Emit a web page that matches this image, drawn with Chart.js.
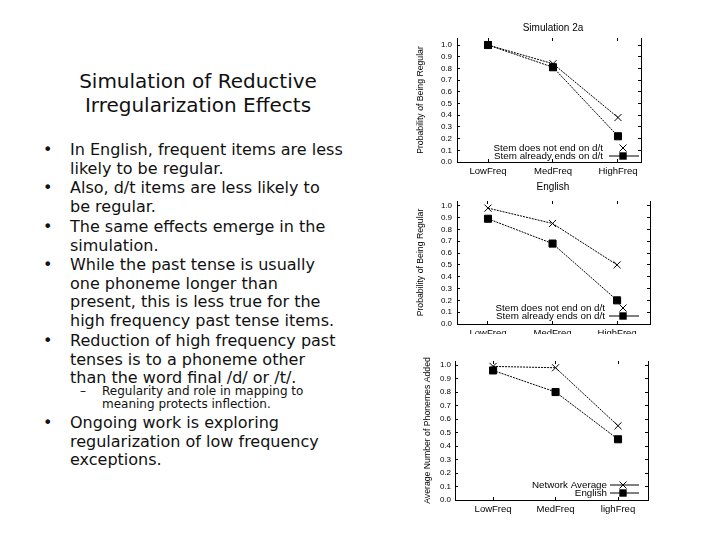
<!DOCTYPE html>
<html>
<head>
<meta charset="utf-8">
<script src="https://cdn.jsdelivr.net/npm/chart.js@4.4.1/dist/chart.umd.min.js"></script>
<style>
  body { margin: 0; background: #fff; width: 720px; height: 540px; overflow: hidden; position: relative; font-family: "DejaVu Sans", Verdana, sans-serif; color: #111; }
  .title { position: absolute; left: 40px; width: 316px; top: 69px; text-align: center; font-size: 20px; line-height: 24px; }
  .bul { position: absolute; left: 70px; font-size: 16px; line-height: 18.5px; white-space: nowrap; }
  .bul::before { content: "\2022"; position: absolute; left: -27px; }
  .sub { position: absolute; left: 102px; font-size: 12px; line-height: 13px; white-space: nowrap; }
  .sub::before { content: "\2013"; position: absolute; left: -22px; }
  canvas { position: absolute; }
</style>
</head>
<body>
<div class="title">Simulation of Reductive<br>Irregularization Effects</div>
<div class="bul" style="top:141px">In English, frequent items are less<br>likely to be regular.</div>
<div class="bul" style="top:179px">Also, d/t items are less likely to<br>be regular.</div>
<div class="bul" style="top:218px">The same effects emerge in the<br>simulation.</div>
<div class="bul" style="top:256px">While the past tense is usually<br>one phoneme longer than<br>present, this is less true for the<br>high frequency past tense items.</div>
<div class="bul" style="top:332px">Reduction of high frequency past<br>tenses is to a phoneme other<br>than the word final /d/ or /t/.</div>
<div class="sub" style="top:385px">Regularity and role in mapping to<br>meaning protects inflection.</div>
<div class="bul" style="top:414px">Ongoing work is exploring<br>regularization of low frequency<br>exceptions.</div>

<canvas id="c1" width="286" height="165" style="left:410px;top:15px"></canvas>
<canvas id="c2" width="286" height="154" style="left:410px;top:180px"></canvas>
<canvas id="c3" width="250" height="165" style="left:410px;top:355px"></canvas>

<script>
// data
const categories = ["LowFreq", "MedFreq", "HighFreq"];
const categories3 = ["LowFreq", "MedFreq", "lighFreq"];
const yTicks = [0.0, 0.1, 0.2, 0.3, 0.4, 0.5, 0.6, 0.7, 0.8, 0.9, 1.0];

const sim2aNotDT = [1.0, 0.84, 0.38];
const sim2aDT = [1.0, 0.81, 0.22];

const engNotDT = [0.98, 0.85, 0.50];
const engDT = [0.89, 0.68, 0.20];

const phonNetwork = [0.99, 0.98, 0.55];
const phonEnglish = [0.96, 0.80, 0.45];

const FONT = "'Liberation Sans', Arial, sans-serif";

function pts(values) {
  return values.map((v, i) => ({ x: i, y: v }));
}

function drawMarker(ctx, style, x, y) {
  ctx.save();
  ctx.strokeStyle = "#000";
  ctx.fillStyle = "#000";
  ctx.lineWidth = 1;
  if (style === "rect") {
    ctx.fillRect(x - 3.7, y - 3.7, 7.4, 7.4);
  } else {
    ctx.beginPath();
    ctx.moveTo(x - 3.5, y - 3.5); ctx.lineTo(x + 3.5, y + 3.5);
    ctx.moveTo(x + 3.5, y - 3.5); ctx.lineTo(x - 3.5, y + 3.5);
    ctx.stroke();
  }
  ctx.restore();
}

// small legend in the lower right corner of the plot area
const cornerLegend = {
  id: "cornerLegend",
  afterDraw(chart, args, opts) {
    const ctx = chart.ctx;
    const a = chart.chartArea;
    ctx.save();
    ctx.font = "9.8px " + FONT;
    ctx.fillStyle = "#000";
    ctx.textAlign = "right";
    ctx.textBaseline = "middle";
    opts.items.forEach((it, k) => {
      const y = a.bottom + opts.rows[k];
      ctx.fillText(it.text, a.right + opts.textX, y);
      if (it.line) {
        ctx.beginPath();
        ctx.strokeStyle = "#000";
        ctx.lineWidth = 1;
        ctx.moveTo(a.right + opts.lineX0, y);
        ctx.lineTo(a.right + opts.lineX1, y);
        ctx.stroke();
      }
      drawMarker(ctx, it.marker, a.right + opts.markX, y);
    });
    ctx.restore();
  }
};

function makeChart(id, c) {
  const ds = (values, style, label) => ({
    label: label,
    data: pts(values),
    showLine: true,
    borderColor: "#000",
    borderWidth: 1,
    borderDash: [2, 1],
    pointStyle: style,
    pointRadius: 5,
    pointBorderWidth: 1,
    pointBorderColor: "#000",
    pointBackgroundColor: "#000",
    tension: 0
  });
  // tick marks point into the plot, like the original
  const inGrid = { drawOnChartArea: false, tickLength: -3, color: "#000" };
  return new Chart(document.getElementById(id), {
    type: "line",
    data: {
      datasets: [
        ds(c.a, "crossRot", c.legend[0].text),
        ds(c.b, "rect", c.legend[1].text)
      ]
    },
    plugins: [cornerLegend],
    options: {
      responsive: false,
      animation: false,
      layout: { padding: { top: c.padTop || 0 } },
      plugins: {
        legend: { display: false },
        tooltip: { enabled: false },
        title: {
          display: !!c.title,
          text: c.title,
          color: "#000",
          font: { family: FONT, size: 10, weight: "normal" },
          padding: c.titlePad
        },
        cornerLegend: Object.assign({ items: c.legend }, c.legendPos)
      },
      scales: {
        x: {
          type: "linear",
          min: c.xMin,
          max: c.xMax,
          afterBuildTicks: s => { s.ticks = c.cats.map((_, i) => ({ value: i })); },
          afterFit: s => { s.height = c.xH; },
          ticks: {
            color: "#000",
            font: { family: FONT, size: 9.5 },
            padding: 7,
            maxRotation: 0,
            autoSkip: false,
            callback: v => c.cats[v]
          },
          grid: inGrid,
          border: { color: "#000", width: 1 }
        },
        x2: {
          type: "linear",
          position: "top",
          min: c.xMin,
          max: c.xMax,
          afterBuildTicks: s => { s.ticks = c.cats.map((_, i) => ({ value: i })); },
          afterFit: s => { s.height = 0; s.paddingLeft = 0; s.paddingRight = 0; },
          ticks: { display: false },
          grid: inGrid,
          border: { display: false }
        },
        y: {
          min: 0,
          max: c.yMax,
          afterBuildTicks: s => { s.ticks = yTicks.map(v => ({ value: v })); },
          afterFit: s => { s.width = c.yW; s.paddingTop = 0; s.paddingBottom = 0; },
          ticks: {
            color: "#000",
            font: { family: FONT, size: 8 },
            padding: c.yTickPad + 6,
            autoSkip: false,
            callback: v => v.toFixed(1)
          },
          title: {
            display: true,
            text: c.yTitle,
            color: "#000",
            font: { family: FONT, size: 8.7 },
            padding: { top: c.yTitlePad, bottom: 0 }
          },
          grid: inGrid,
          border: { color: "#000", width: 1 }
        },
        y2: {
          position: "right",
          min: 0,
          max: c.yMax,
          afterBuildTicks: s => { s.ticks = yTicks.map(v => ({ value: v })); },
          afterFit: s => { s.width = c.y2W; s.paddingTop = 0; s.paddingBottom = 0; },
          ticks: { display: false },
          grid: inGrid,
          border: { color: "#000", width: 1 }
        }
      }
    }
  });
}

makeChart("c1", {
  title: "Simulation 2a",
  titlePad: { top: 7, bottom: 4 },
  cats: categories,
  a: sim2aNotDT, b: sim2aDT,
  xMin: -0.477, xMax: 2.354, xH: 18,
  yMax: 1.06, yW: 47, y2W: 55, yTickPad: 2, yTitlePad: 5,
  yTitle: "Probability of Being Regular",
  legend: [
    { text: "Stem does not end on d/t", marker: "crossRot", line: false },
    { text: "Stem already ends on d/t", marker: "rect", line: true }
  ],
  legendPos: { textX: -38, markX: -18, lineX0: -32, lineX1: -2, rows: [-14, -6] }
});

makeChart("c2", {
  title: "English",
  titlePad: { top: 1, bottom: 8 },
  cats: categories,
  a: engNotDT, b: engDT,
  xMin: -0.48, xMax: 2.51, xH: 10,
  yMax: 1.04, yW: 47, y2W: 46, yTickPad: 2, yTitlePad: 5,
  yTitle: "Probability of Being Regular",
  legend: [
    { text: "Stem does not end on d/t", marker: "crossRot", line: false },
    { text: "Stem already ends on d/t", marker: "rect", line: true }
  ],
  legendPos: { textX: -45, markX: -27, lineX0: -41, lineX1: -11, rows: [-16, -8] }
});

makeChart("c3", {
  title: "",
  padTop: 6,
  titlePad: 0,
  cats: categories3,
  a: phonNetwork, b: phonEnglish,
  xMin: -0.61, xMax: 2.48, xH: 20,
  yMax: 1.03, yW: 45, y2W: 12, yTickPad: 1, yTitlePad: 12,
  yTitle: "Average Number of Phonemes Added",
  legend: [
    { text: "Network Average", marker: "crossRot", line: true },
    { text: "English", marker: "rect", line: true }
  ],
  legendPos: { textX: -41, markX: -25, lineX0: -38, lineX1: -9, rows: [-15, -7] }
});
</script>
</body>
</html>
